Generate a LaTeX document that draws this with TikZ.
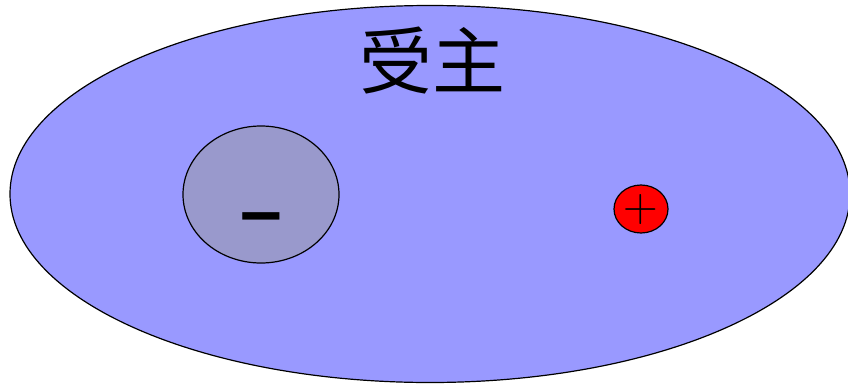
\documentclass[tikz,border=0pt]{standalone}
\usepackage{fontspec}
\usepackage{tikz}
\usetikzlibrary{shapes.geometric}
\newfontfamily\cjkfont{Noto Sans CJK SC}
\newfontfamily\dashfont{Liberation Sans}
\definecolor{bulk}{HTML}{9999FF}
\definecolor{ioncore}{HTML}{9999CC}
\definecolor{holered}{HTML}{FF0000}

\tikzset{
  blob/.style={ellipse, draw=black, line width=1.2pt, inner sep=0pt}
}

\begin{document}
\begin{tikzpicture}[x=1pt,y=-1pt]
  \useasboundingbox (0,0) rectangle (848,383);
  % host crystal
  \node[
    blob,
    fill=bulk,
    minimum width=840pt,
    minimum height=377pt
  ] (crystal) at (430,194) {};
  \node[
    inner sep=0pt,
    font=\cjkfont\fontsize{73}{73}\selectfont
  ] (title) at (432,61) {受主};
  % bound acceptor ion
  \node[
    blob,
    fill=ioncore,
    minimum width=156pt,
    minimum height=137pt
  ] (ion) at (261,194.5) {};
  \node[
    inner sep=0pt,
    font=\dashfont\bfseries\fontsize{75}{75}\selectfont
  ] (charge) at (261,225) {–};
  % free hole
  \node[
    blob,
    fill=holered,
    minimum width=54pt,
    minimum height=48pt
  ] (hole) at (641,209) {};
  \node[
    inner sep=0pt,
    font=\fontsize{48}{48}\selectfont
  ] (plus) at (641,210) {+};
\end{tikzpicture}
\end{document}
